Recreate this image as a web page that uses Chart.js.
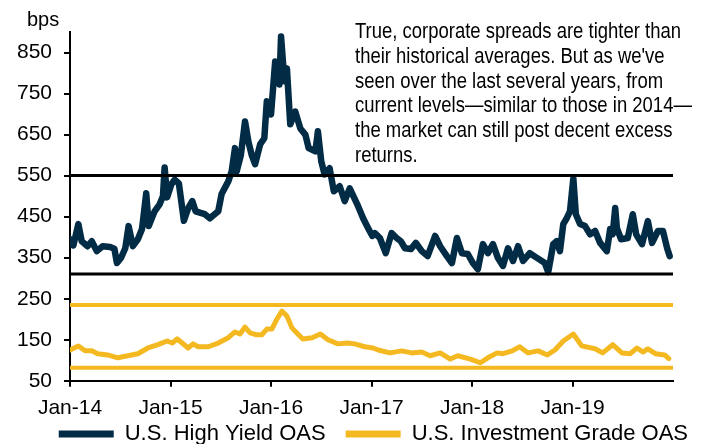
<!DOCTYPE html>
<html>
<head>
<meta charset="utf-8">
<script src="https://cdn.jsdelivr.net/npm/chart.js@4.4.1/dist/chart.umd.min.js"></script>
<style>
  html, body { margin: 0; padding: 0; background: #fff; }
  #wrap { width: 708px; height: 444px; }
</style>
</head>
<body>
<div id="wrap"><canvas id="spreadChart"></canvas></div>
<script>
// x positions are months since Jan-14
const xLabels = ['Jan-14', 'Jan-15', 'Jan-16', 'Jan-17', 'Jan-18', 'Jan-19'];
const xTickMonths = [0, 12, 24, 36, 48, 60];
const yTicks = [50, 150, 250, 350, 450, 550, 650, 750, 850];

const seriesNames = ['U.S. High Yield OAS', 'U.S. Investment Grade OAS'];

const hyMonths = [0.0, 0.4, 1.0, 1.4, 2.1, 2.6, 3.2, 3.9, 4.8, 5.3, 5.6, 6.1, 6.6, 7.0, 7.5, 8.1, 8.6, 9.1, 9.4, 10.1,
  10.7, 11.1, 11.3, 11.6, 12.1, 12.5, 13.0, 13.6, 14.1, 14.6, 15.0, 16.1, 16.7, 17.7, 18.1, 18.9, 19.3, 19.7, 19.9, 20.4,
  20.9, 21.3, 21.7, 22.1, 22.7, 23.2, 23.5, 24.0, 24.5, 25.0, 25.2, 25.6, 25.9, 26.3, 26.9, 27.5, 28.1, 28.5, 29.3, 29.6,
  30.0, 30.4, 31.0, 31.5, 32.2, 32.8, 33.4, 34.3, 35.0, 35.6, 36.1, 36.4, 37.0, 37.7, 38.4, 39.0, 39.5, 40.0, 40.7, 41.3,
  42.0, 42.7, 43.6, 44.2, 45.0, 45.6, 46.2, 46.8, 47.5, 48.1, 48.7, 49.3, 49.9, 50.5, 51.1, 51.7, 52.3, 52.9, 53.5, 54.1,
  54.9, 55.8, 56.7, 57.1, 57.7, 58.1, 58.5, 58.9, 59.3, 59.7, 60.1, 60.4, 60.9, 61.5, 62.1, 62.7, 63.3, 64.1, 64.5, 64.8,
  65.1, 65.3, 65.8, 66.6, 67.2, 67.6, 68.3, 69.0, 69.5, 70.2, 70.8, 71.3, 71.6];
const hyValues = [395, 380, 432, 390, 378, 390, 366, 378, 376, 372, 337, 350, 373, 427, 378, 395, 420, 507, 427, 463,
  480, 500, 570, 497, 529, 540, 531, 440, 470, 488, 463, 456, 446, 463, 505, 536, 560, 617, 560, 600,
  682, 633, 600, 578, 626, 641, 731, 699, 828, 772, 889, 780, 811, 675, 706, 665, 650, 617, 609, 658,
  585, 553, 568, 512, 524, 488, 519, 480, 446, 422, 403, 410, 398, 361, 410, 398, 390, 373, 371, 386,
  366, 354, 403, 378, 354, 337, 398, 361, 359, 337, 322, 383, 361, 383, 349, 330, 373, 342, 378, 342,
  361, 349, 337, 315, 383, 390, 366, 432, 446, 463, 543, 456, 432, 427, 407, 415, 386, 366, 420, 407,
  471, 422, 395, 398, 456, 407, 383, 439, 386, 415, 415, 373, 354];

const igMonths = [0.0, 1.0, 1.8, 2.6, 3.3, 4.5, 5.7, 6.9, 8.1, 9.3, 10.5, 11.6, 12.2, 12.8, 13.4, 14.1, 14.7, 15.3, 16.5, 17.7,
  18.9, 19.7, 20.3, 20.9, 21.5, 22.3, 22.9, 23.5, 24.1, 24.7, 25.3, 25.9, 26.5, 27.2, 27.8, 28.9, 29.9, 30.8, 32.0, 33.1,
  34.0, 35.2, 36.2, 36.8, 38.2, 39.6, 40.8, 42.0, 43.0, 44.2, 45.4, 46.3, 47.8, 49.0, 49.9, 51.0, 51.7, 52.8, 53.7, 54.7,
  55.9, 57.0, 57.9, 58.9, 60.1, 61.1, 62.7, 63.6, 64.8, 65.9, 66.9, 67.7, 68.4, 69.0, 69.9, 71.0, 71.5];
const igValues = [125, 135, 123, 123, 116, 113, 106, 111, 116, 130, 138, 147, 142, 152, 142, 130, 140, 133, 133, 142,
  155, 169, 164, 181, 167, 162, 162, 176, 176, 200, 220, 208, 179, 164, 152, 155, 164, 150, 140, 142,
  140, 133, 130, 125, 118, 123, 118, 120, 111, 118, 103, 111, 103, 94, 106, 118, 116, 123, 133, 118,
  123, 113, 125, 147, 164, 135, 128, 118, 138, 118, 116, 130, 120, 128, 116, 113, 104];

// historical range bands
const hyBands = [550, 310];
const igBands = [235, 82];

const navy = '#022b45';
const gold = '#f4b921';
const fontFamily = "'Liberation Sans', Arial, sans-serif";

const noteLines = [
    'True, corporate spreads are tighter than',
    "their historical averages. But as we've",
    'seen over the last several years, from',
    'current levels\u2014similar to those in 2014\u2014',
    'the market can still post decent excess',
    'returns.'
];

function pairUp(xs, ys) {
    return xs.map((x, i) => ({ x: x, y: ys[i] }));
}

function bandLine(v, color, w) {
    return {
        label: 'band',
        data: [{ x: 0, y: v }, { x: 72, y: v }],
        borderColor: color,
        borderWidth: w,
        pointRadius: 0,
        order: 0
    };
}

// bps label + callout text, and pull the legend up under the tick labels
const textPlugin = {
    id: 'textPlugin',
    afterLayout(chart) {
        chart.legend.top -= 27;
    },
    afterDraw(chart) {
        let ctx = chart.ctx;
        ctx.save();
        ctx.fillStyle = '#000';
        ctx.textBaseline = 'middle';
        ctx.font = '20px ' + fontFamily;
        ctx.fillText('bps', 27, 20);

        ctx.font = '22px ' + fontFamily;
        ctx.translate(355, 0);
        ctx.scale(0.84, 1);
        noteLines.forEach((line, i) => {
            ctx.fillText(line, 0, 32 + i * 24.8);
        });
        ctx.restore();
    }
};

let ctx = document.getElementById('spreadChart').getContext('2d');
let spreadChart = new Chart(ctx, {
    type: 'line',
    data: {
        datasets: [{
            label: seriesNames[0],
            data: pairUp(hyMonths, hyValues),
            borderColor: navy,
            backgroundColor: navy,
            borderWidth: 6.5,
            pointRadius: 0,
            borderJoinStyle: 'round',
            borderCapStyle: 'round',
            order: 1
        }, {
            label: seriesNames[1],
            data: pairUp(igMonths, igValues),
            borderColor: gold,
            backgroundColor: gold,
            borderWidth: 5,
            pointRadius: 0,
            borderJoinStyle: 'round',
            borderCapStyle: 'round',
            order: 1
        },
        bandLine(hyBands[0], '#000', 3),
        bandLine(hyBands[1], '#000', 3),
        bandLine(igBands[0], gold, 4),
        bandLine(igBands[1], gold, 4)]
    },
    options: {
        responsive: true,
        maintainAspectRatio: false,
        animation: false,
        layout: { padding: { left: 0, right: 0, top: 32, bottom: -10 } },
        plugins: {
            tooltip: { enabled: false },
            legend: {
                position: 'bottom',
                align: 'end',
                maxHeight: 24,
                labels: {
                    color: '#000',
                    font: { family: fontFamily, size: 22 },
                    boxWidth: 55,
                    boxHeight: 7,
                    padding: 20,
                    useBorderRadius: true,
                    borderRadius: 3.5,
                    generateLabels: chart => seriesNames.map((name, i) => ({
                        text: name,
                        fillStyle: i === 0 ? navy : gold,
                        strokeStyle: i === 0 ? navy : gold,
                        lineWidth: 0,
                        hidden: false,
                        datasetIndex: i
                    }))
                }
            }
        },
        scales: {
            x: {
                type: 'linear',
                min: 0,
                max: 72,
                afterBuildTicks: axis => { axis.ticks = xTickMonths.map(v => ({ value: v })); },
                ticks: {
                    color: '#000',
                    font: { family: fontFamily, size: 21 },
                    padding: 9,
                    maxRotation: 0,
                    autoSkip: false,
                    callback: v => xLabels[xTickMonths.indexOf(v)]
                },
                grid: { drawOnChartArea: false, drawTicks: true, tickLength: 6, color: '#000', lineWidth: 2 },
                border: { display: true, color: '#000', width: 2 }
            },
            y: {
                min: 50,
                max: 900,
                afterBuildTicks: axis => { axis.ticks = yTicks.map(v => ({ value: v })); },
                afterFit: axis => { axis.width = 70; },
                ticks: {
                    color: '#000',
                    font: { family: fontFamily, size: 21 },
                    padding: 12
                },
                grid: { drawOnChartArea: false, drawTicks: true, tickLength: 6, color: '#000', lineWidth: 2 },
                border: { display: true, color: '#000', width: 2 }
            },
            yPad: {
                position: 'right',
                afterFit: axis => { axis.width = 35; },
                ticks: { display: false },
                grid: { display: false },
                border: { display: false }
            }
        }
    },
    plugins: [textPlugin]
});
</script>
</body>
</html>
